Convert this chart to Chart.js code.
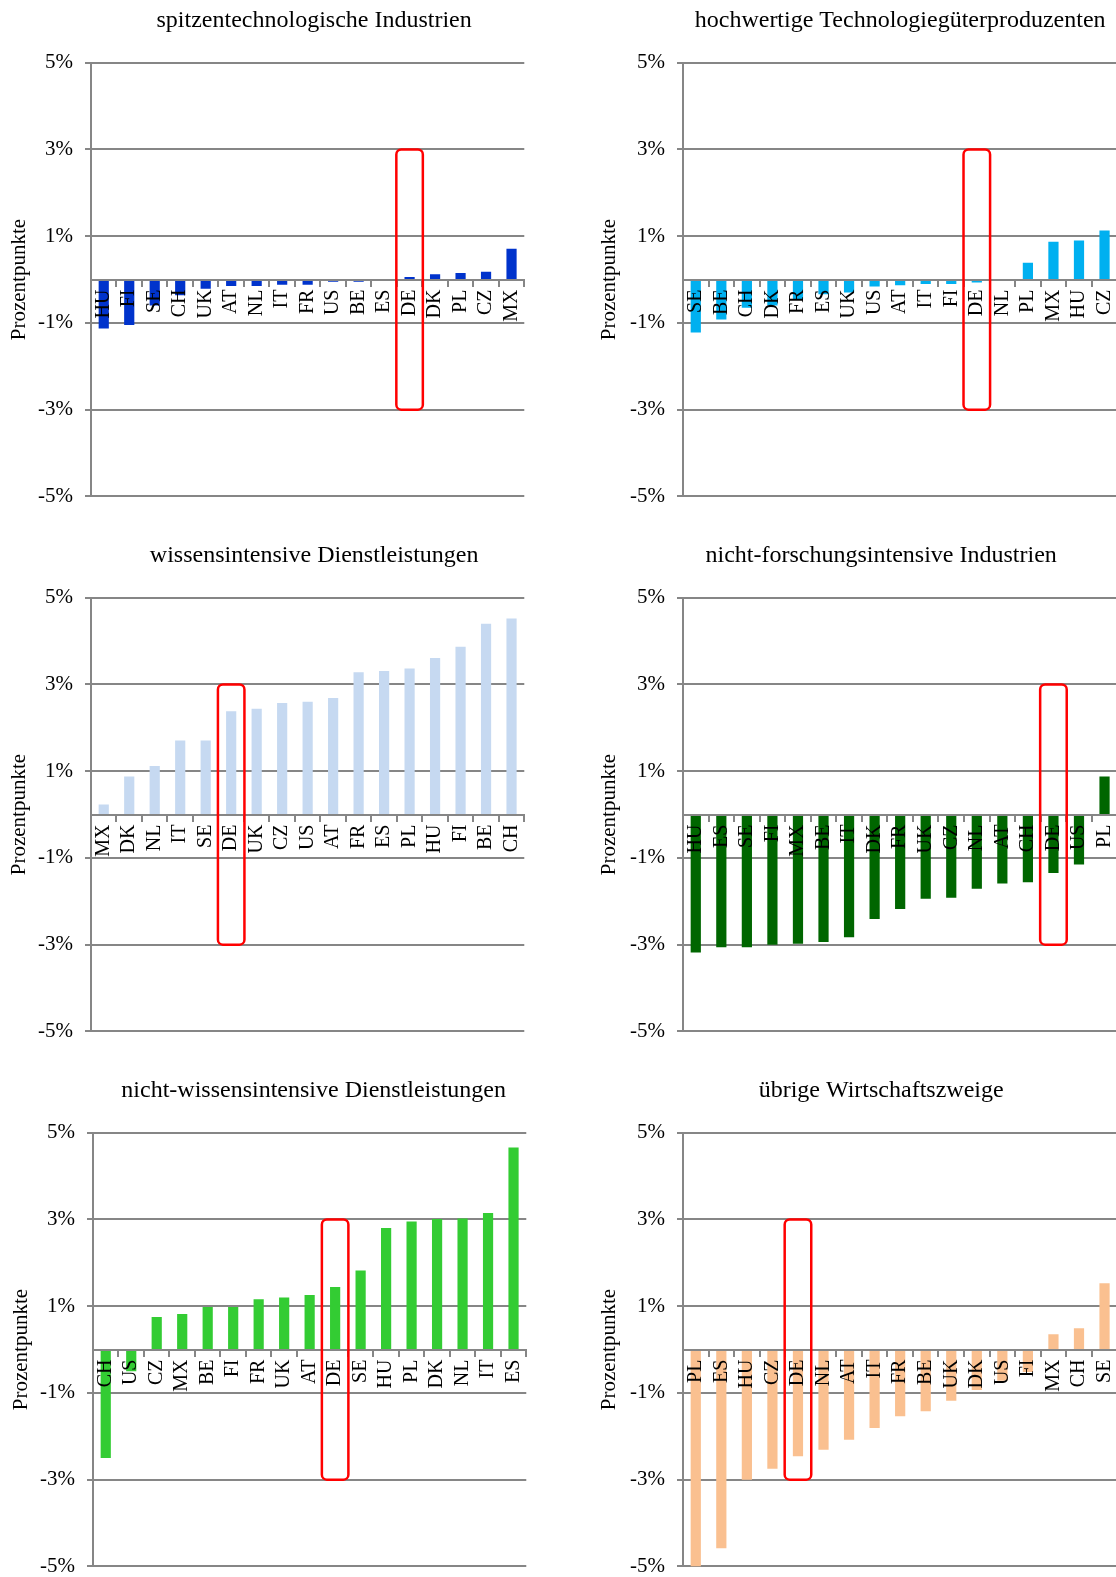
<!DOCTYPE html>
<html lang="de">
<head>
<meta charset="utf-8">
<title>Veränderung in Prozentpunkten nach Wirtschaftszweigen</title>
<script src="https://cdn.jsdelivr.net/npm/chart.js@4.4.1/dist/chart.umd.min.js"></script>
<style>
  html, body { margin: 0; padding: 0; background: #fff; }
  body { width: 1116px; height: 1577px; position: relative; overflow: hidden; }
  canvas { position: absolute; }
</style>
</head>
<body>
<canvas id="spitze" width="540" height="521" style="left:0px;top:0px"></canvas>
<canvas id="hoch" width="543" height="521" style="left:590px;top:0px"></canvas>
<canvas id="wissen" width="540" height="521" style="left:0px;top:535px"></canvas>
<canvas id="nichtForsch" width="543" height="521" style="left:590px;top:535px"></canvas>
<canvas id="nichtWissen" width="540" height="521" style="left:2px;top:1070px"></canvas>
<canvas id="uebrige" width="543" height="521" style="left:590px;top:1070px"></canvas>
<script>
// Werte in Prozentpunkten
const spitzeLaender = ['HU', 'FI', 'SE', 'CH', 'UK', 'AT', 'NL', 'IT', 'FR', 'US', 'BE', 'ES', 'DE', 'DK', 'PL', 'CZ', 'MX']
const spitzeWerte = [-1.13, -1.05, -0.6, -0.36, -0.21, -0.15, -0.15, -0.12, -0.12, -0.05, -0.05, 0, 0.06, 0.12, 0.15, 0.18, 0.71]

const hochLaender = ['SE', 'BE', 'CH', 'DK', 'FR', 'ES', 'UK', 'US', 'AT', 'IT', 'FI', 'DE', 'NL', 'PL', 'MX', 'HU', 'CZ']
const hochWerte = [-1.22, -0.92, -0.65, -0.6, -0.45, -0.34, -0.3, -0.16, -0.13, -0.1, -0.1, -0.07, 0, 0.39, 0.87, 0.9, 1.13]

const wissenLaender = ['MX', 'DK', 'NL', 'IT', 'SE', 'DE', 'UK', 'CZ', 'US', 'AT', 'FR', 'ES', 'PL', 'HU', 'FI', 'BE', 'CH']
const wissenWerte = [0.23, 0.88, 1.12, 1.71, 1.71, 2.38, 2.44, 2.57, 2.6, 2.69, 3.28, 3.31, 3.37, 3.61, 3.87, 4.4, 4.52]

const nichtForschLaender = ['HU', 'ES', 'SE', 'FI', 'MX', 'BE', 'IT', 'DK', 'FR', 'UK', 'CZ', 'NL', 'AT', 'CH', 'DE', 'US', 'PL']
const nichtForschWerte = [-3.18, -3.06, -3.06, -3.0, -2.98, -2.94, -2.83, -2.41, -2.18, -1.94, -1.92, -1.71, -1.59, -1.56, -1.35, -1.15, 0.88]

const nichtWissenLaender = ['CH', 'US', 'CZ', 'MX', 'BE', 'FI', 'FR', 'UK', 'AT', 'DE', 'SE', 'HU', 'PL', 'DK', 'NL', 'IT', 'ES']
const nichtWissenWerte = [-2.5, -0.5, 0.75, 0.82, 0.98, 0.98, 1.16, 1.2, 1.26, 1.44, 1.82, 2.8, 2.95, 3.01, 3.02, 3.15, 4.66]

const uebrigeLaender = ['PL', 'ES', 'HU', 'CZ', 'DE', 'NL', 'AT', 'IT', 'FR', 'BE', 'UK', 'DK', 'US', 'FI', 'MX', 'CH', 'SE']
const uebrigeWerte = [-5.0, -4.58, -3.0, -2.75, -2.46, -2.31, -2.08, -1.81, -1.54, -1.42, -1.18, -0.93, -0.72, -0.52, 0.35, 0.49, 1.53]

// Achsenbeschriftung und Rahmen um Deutschland
const yTicks = [-5, -3, -1, 1, 3, 5]
const rahmenOben = 3
const rahmenUnten = -3

const schrift = "'Liberation Serif', 'Times New Roman', serif"
const grau = '#868686'

// roter Rahmen um DE, von 3% bis -3%
const deRahmen = {
  id: 'deRahmen',
  afterDraw(chart) {
    const x = chart.scales.x
    const y = chart.scales.y
    const i = chart.data.labels.indexOf('DE')
    if (i < 0) return
    const mitte = x.getPixelForValue(i)
    const halb = (x.getPixelForValue(1) - x.getPixelForValue(0)) * 0.52
    const oben = y.getPixelForValue(rahmenOben)
    const unten = y.getPixelForValue(rahmenUnten)
    const ctx = chart.ctx
    ctx.save()
    ctx.strokeStyle = '#ff0000'
    ctx.lineWidth = 2.5
    ctx.beginPath()
    ctx.roundRect(mitte - halb, oben, halb * 2, unten - oben, 5)
    ctx.stroke()
    ctx.restore()
  }
}

// Titel etwas seitlich verschieben (wie im Original)
const titelVersatz = {
  id: 'titelVersatz',
  afterLayout(chart, args, opts) {
    if (!chart.titleBlock) return
    chart.titleBlock.left += opts.dx || 0
    chart.titleBlock.right += opts.dx || 0
  }
}

function zeichne(id, titel, laender, werte, farbe, achsenBreite, dx) {
  return new Chart(document.getElementById(id), {
    type: 'bar',
    data: {
      labels: laender,
      datasets: [{
        data: werte,
        backgroundColor: farbe,
        borderWidth: 0,
        barPercentage: 0.4,
        categoryPercentage: 1
      }]
    },
    options: {
      responsive: false,
      animation: false,
      layout: { padding: { left: 0, right: 15, top: 0, bottom: 14 } },
      plugins: {
        legend: { display: false },
        tooltip: { enabled: false },
        title: {
          display: true,
          text: titel,
          fullSize: false,
          color: '#000',
          font: { family: schrift, size: 24, weight: 'normal' },
          padding: { top: 6.5, bottom: 27.4 }
        },
        titelVersatz: { dx: dx }
      },
      scales: {
        x: {
          position: { y: 0 },
          offset: true,
          grid: { display: true, drawOnChartArea: false, drawTicks: true, tickLength: 6, color: grau, lineWidth: 2, offset: true },
          border: { display: true, color: grau, width: 2, z: 1 },
          ticks: {
            autoSkip: false,
            minRotation: 90,
            maxRotation: 90,
            padding: 4,
            color: '#000',
            font: { family: schrift, size: 20 },
            z: 1
          }
        },
        y: {
          min: -5,
          max: 5,
          afterBuildTicks: s => { s.ticks = yTicks.map(v => ({ value: v })) },
          afterFit: s => { s.width = achsenBreite },
          grid: { color: grau, lineWidth: 2, tickLength: 6 },
          border: { color: grau, width: 2 },
          ticks: {
            callback: v => v + '%',
            padding: 12,
            color: '#000',
            font: { family: schrift, size: 21 }
          },
          title: {
            display: true,
            text: 'Prozentpunkte',
            color: '#000',
            font: { family: schrift, size: 21 },
            padding: { top: 7, bottom: 0 }
          }
        }
      }
    },
    plugins: [deRahmen, titelVersatz]
  })
}

zeichne('spitze', 'spitzentechnologische Industrien', spitzeLaender, spitzeWerte, '#0033cc', 91, 6.5)
zeichne('hoch', 'hochwertige Technologiegüterproduzenten', hochLaender, hochWerte, '#00b0f0', 93, 0)
zeichne('wissen', 'wissensintensive Dienstleistungen', wissenLaender, wissenWerte, '#c6d9f1', 91, 6.5)
zeichne('nichtForsch', 'nicht-forschungsintensive Industrien', nichtForschLaender, nichtForschWerte, '#006600', 93, -19)
zeichne('nichtWissen', 'nicht-wissensintensive Dienstleistungen', nichtWissenLaender, nichtWissenWerte, '#33cc33', 91, 4)
zeichne('uebrige', 'übrige Wirtschaftszweige', uebrigeLaender, uebrigeWerte, '#fac090', 93, -19)
</script>
</body>
</html>
